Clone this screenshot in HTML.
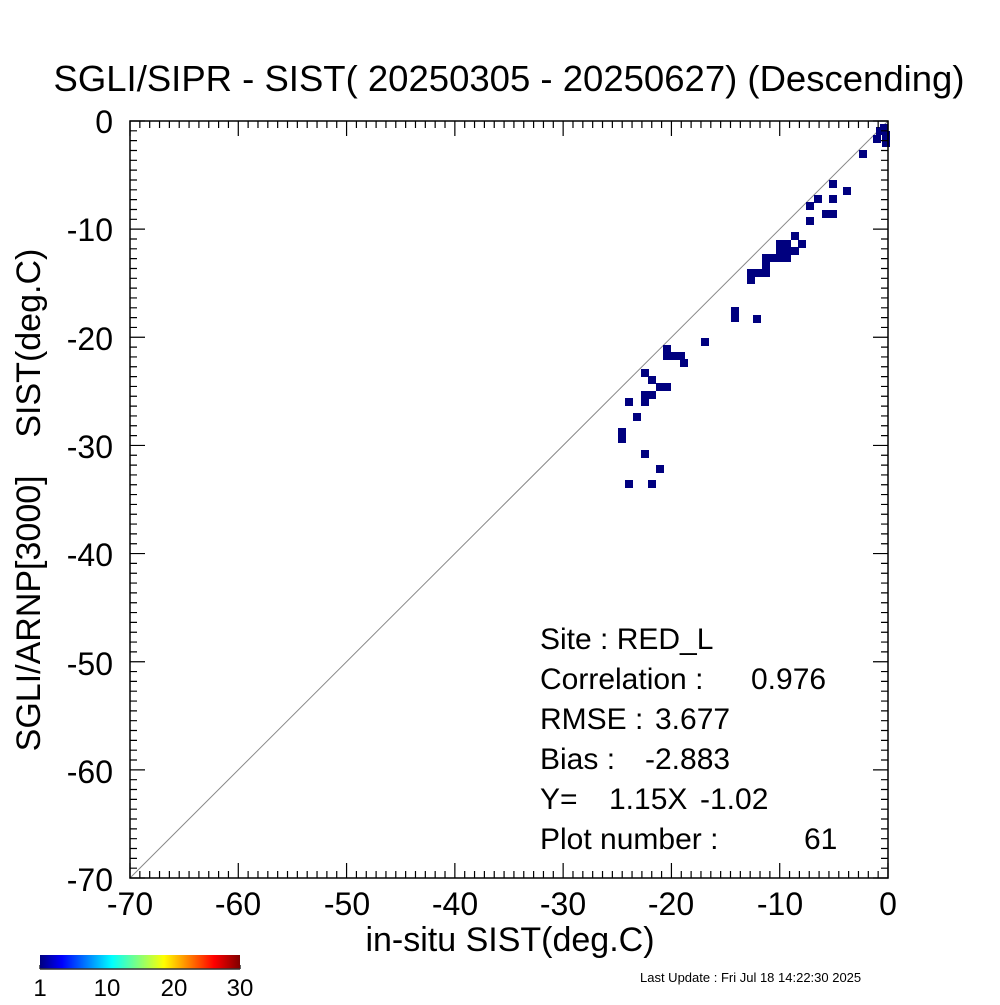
<!DOCTYPE html>
<html><head><meta charset="utf-8"><style>
html,body{margin:0;padding:0;background:#fff;}
svg text{font-family:"Liberation Sans",Arial,sans-serif;fill:#000;white-space:pre;}
</style></head><body>
<svg id="s" width="1000" height="1000" viewBox="0 0 1000 1000" xmlns="http://www.w3.org/2000/svg">
<defs>
<linearGradient id="jet" x1="0" x2="1" y1="0" y2="0">
<stop offset="0" stop-color="#00007f"/>
<stop offset="0.11" stop-color="#0000ff"/>
<stop offset="0.36" stop-color="#00ffff"/>
<stop offset="0.62" stop-color="#ffff00"/>
<stop offset="0.87" stop-color="#ff0000"/>
<stop offset="1" stop-color="#7f0000"/>
</linearGradient>
</defs>
<text x="509" y="91" font-size="36.5" text-anchor="middle">SGLI/SIPR - SIST( 20250305 - 20250627) (Descending)</text>
<line x1="130" y1="878" x2="888" y2="121" stroke="#888" stroke-width="1"/>
<g id="pts" fill="#00007f"></g>
<g id="ax" stroke="#000" stroke-width="1.2" fill="none"></g>
<rect x="130" y="121" width="758" height="757" fill="none" stroke="#000" stroke-width="1.5"/>
<g font-size="32" text-anchor="end">
<text x="113" y="133">0</text><text x="113" y="241">-10</text><text x="113" y="350">-20</text><text x="113" y="458">-30</text><text x="113" y="566">-40</text><text x="113" y="675">-50</text><text x="113" y="783">-60</text><text x="113" y="891">-70</text>
</g>
<g font-size="32" text-anchor="middle">
<text x="130" y="915">-70</text><text x="238" y="915">-60</text><text x="347" y="915">-50</text><text x="455" y="915">-40</text><text x="563" y="915">-30</text><text x="671" y="915">-20</text><text x="780" y="915">-10</text><text x="888" y="915">0</text>
</g>
<text x="510" y="951" font-size="34" text-anchor="middle">in-situ SIST(deg.C)</text>
<text transform="translate(40,500) rotate(-90)" font-size="34" text-anchor="middle">SGLI/ARNP[3000]    SIST(deg.C)</text>
<g font-size="30">
<text x="540" y="649">Site : RED_L</text>
<text x="540" y="689">Correlation :</text><text x="751" y="689">0.976</text>
<text x="540" y="729">RMSE :</text><text x="655" y="729">3.677</text>
<text x="540" y="769">Bias :</text><text x="645" y="769">-2.883</text>
<text x="540" y="809">Y=</text><text x="609" y="809">1.15X</text><text x="700" y="809">-1.02</text>
<text x="540" y="849">Plot number :</text><text x="804" y="849">61</text>
</g>
<rect x="40" y="955" width="200" height="14" fill="url(#jet)"/>
<line x1="40" y1="969" x2="240" y2="969" stroke="#333" stroke-width="1.5"/>
<g font-size="24" text-anchor="middle">
<text x="40" y="996">1</text><text x="107" y="996">10</text><text x="174" y="996">20</text><text x="240" y="996">30</text>
</g>
<text x="640" y="982" font-size="13">Last Update : Fri Jul 18 14:22:30 2025</text>
</svg>
<script>
var ns="http://www.w3.org/2000/svg";
var ax=document.getElementById('ax');
var d="";
var x0=130,x1=888,y0=121,y1=878;
for(var i=0;i<=77;i++){
 var maj=(i%11==0);var L=maj?15:7;
 var x=x0+(x1-x0)*i/77;
 d+="M"+x+" "+y1+"v-"+L+"M"+x+" "+y0+"v"+L;
 var y=y0+(y1-y0)*i/77;
 d+="M"+x0+" "+y+"h"+L+"M"+x1+" "+y+"h-"+L;
}
for(var j=0;j<=9;j++){var cx=40+200*j/9;d+="M"+cx+" 969v-4";}
var p=document.createElementNS(ns,'path');p.setAttribute('d',d);ax.appendChild(p);
var pts=[[884,128],[886,135],[886,143],[880,131],[877,139],[863,154],[833,184],[847,191],[818,199],[833,199],[810,206],[826,214],[833,214],[810,221],[795,236],[802,244],
[780,244],[787,244],[780,251],[787,251],[795,251],[766,258],[773,258],[780,258],[787,258],[766,265],[751,273],[758,273],[766,273],[751,280],[735,311],[735,318],[757,319],[705,342],
[667,349],[667,356],[674,356],[681,356],[684,363],[645,373],[652,380],[660,387],[667,387],[645,395],[652,395],[645,402],[629,402],[637,417],[622,432],[622,439],[645,454],[660,469],[629,484],[652,484]];
var g=document.getElementById('pts');
pts.forEach(function(q){var r=document.createElementNS(ns,'rect');r.setAttribute('x',q[0]-4);r.setAttribute('y',q[1]-4);r.setAttribute('width',8);r.setAttribute('height',8);g.appendChild(r);});
</script>
</body></html>
